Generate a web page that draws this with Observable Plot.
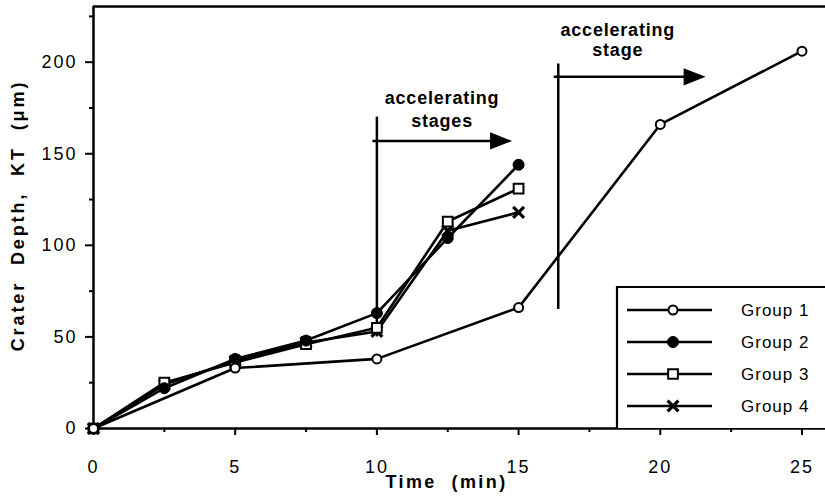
<!DOCTYPE html>
<html>
<head>
<meta charset="utf-8">
<script src="https://cdn.jsdelivr.net/npm/d3@7"></script>
<script src="https://cdn.jsdelivr.net/npm/@observablehq/plot@0.6"></script>
<style>
  body { margin: 0; background: #fff; }
  #chart { position: relative; width: 825px; height: 499px; font-family: "Liberation Sans", Arial, sans-serif; }
  #chart svg { display: block; }
  #chart text { white-space: pre; }
  #legend { position: absolute; left: 0; top: 0; }
  #legend text { letter-spacing: 1px; }
</style>
</head>
<body>
<div id="chart"></div>
<script>
// Sampling times (min) for groups 2–4, and the longer run of group 1
const times = [0, 2.5, 5, 7.5, 10, 12.5, 15];
const group1Times = [0, 5, 10, 15, 20, 25];

// Crater depth KT (µm)
const group1Depth = [0, 33, 38, 66, 166, 206];
const group2Depth = [0, 22, 38, 48, 63, 104, 144];
const group3Depth = [0, 25, 36, 46, 55, 113, 131];
const group4Depth = [0, 24, 37, 47, 53, 108, 118];

const groupNames = ["Group 1", "Group 2", "Group 3", "Group 4"];

// Axis ticks
const xTicks = [0, 5, 10, 15, 20, 25];
const xMinorTicks = [2.5, 7.5, 12.5, 17.5, 22.5];
const yTicks = [0, 50, 100, 150, 200];
const yMinorTicks = [25, 75, 125, 175, 225];
const xMax = 25.83;
const yMax = 230.4;

// Axis titles
const xTitle = "Time  (min)";
const yTitle = "Crater  Depth,  KT  (μm)";

// Accelerating-stage markers: start time, vertical extent, arrow height and tip
const stageStart = [10, 16.4];
const stageBottom = [50, 65];
const stageTop = [170, 199];
const arrowY = [157, 192];
const arrowTip = [14.77, 21.6];

// Stage label lines
const stageLabelText = ["accelerating", "stages", "accelerating", "stage"];
const stageLabelX = [12.3, 12.3, 18.5, 18.5];
const stageLabelY = [180.5, 167.5, 217.5, 206.6];

const series = [
  {name: groupNames[0], t: group1Times, d: group1Depth},
  {name: groupNames[1], t: times, d: group2Depth},
  {name: groupNames[2], t: times, d: group3Depth},
  {name: groupNames[3], t: times, d: group4Depth}
];
const rows = series.flatMap(s => s.d.map((depth, i) => ({group: s.name, time: s.t[i], depth})));
const of = name => rows.filter(r => r.group === name);

const stages = stageStart.map((start, i) => ({
  start, bottom: stageBottom[i], top: stageTop[i], y: arrowY[i], tip: arrowTip[i]
}));
const stageLabels = stageLabelText.map((text, i) => ({text, x: stageLabelX[i], y: stageLabelY[i]}));

// Filled arrowhead pointing right, centred on its own origin
const arrowHead = {
  draw(ctx, size) {
    const r = Math.sqrt(size / Math.PI);
    ctx.moveTo(r, 0);
    ctx.lineTo(-r, -0.78 * r);
    ctx.lineTo(-r, 0.78 * r);
    ctx.closePath();
  }
};

// Marker styles per group (shared by plot and legend)
const markerStyles = [
  {symbol: "circle", r: 4.5, fill: "white", stroke: "black", strokeWidth: 2},
  {symbol: "circle", r: 5.5, fill: "black", stroke: "black", strokeWidth: 1},
  {symbol: "square", r: 5.5, fill: "white", stroke: "black", strokeWidth: 2},
  {symbol: "times", r: 5, fill: "none", stroke: "black", strokeWidth: 3.2}
];

const chart = Plot.plot({
  width: 825,
  height: 499,
  marginTop: 6,
  marginRight: 0,
  marginBottom: 71,
  marginLeft: 93,
  style: {fontFamily: "Liberation Sans, Arial, sans-serif", color: "black", background: "white", overflow: "visible"},
  x: {domain: [0, xMax], label: null},
  y: {domain: [0, yMax], label: null},
  marks: [
    // axes
    Plot.axisX(xTicks, {tickSize: 7, tickPadding: 25, fontSize: 18, strokeWidth: 2}),
    Plot.axisX(xMinorTicks, {tickSize: 4, strokeWidth: 2, tickFormat: () => ""}),
    Plot.axisY(yTicks, {tickSize: 8, tickPadding: 8, fontSize: 18, strokeWidth: 2}),
    Plot.axisY(yMinorTicks, {tickSize: 4, strokeWidth: 2, tickFormat: () => ""}),
    Plot.ruleY([0], {strokeWidth: 2.5}),
    Plot.ruleY([yMax], {strokeWidth: 2.5}),
    Plot.ruleX([0], {strokeWidth: 2.5}),
    Plot.text([xTitle], {text: d => d, frameAnchor: "bottom", lineAnchor: "middle", textAnchor: "middle", dy: 54, dx: -13, fontSize: 18, fontWeight: "bold"}),
    Plot.text([yTitle], {text: d => d, frameAnchor: "left", textAnchor: "middle", lineAnchor: "middle", rotate: -90, dx: -75, dy: -2, fontSize: 18, fontWeight: "bold"}),

    // accelerating-stage annotations
    Plot.ruleX(stages, {x: "start", y1: "bottom", y2: "top", strokeWidth: 2.5}),
    Plot.ruleY(stages, {y: "y", x1: "start", x2: "tip", strokeWidth: 2.5, dx: -4}),
    Plot.dot(stages, {x: "tip", y: "y", symbol: arrowHead, r: 11, fill: "black", stroke: "none", dx: -11}),
    Plot.text(stageLabels, {x: "x", y: "y", text: "text", fontSize: 18, fontWeight: "bold"}),

    // series
    Plot.line(rows, {x: "time", y: "depth", z: "group", stroke: "black", strokeWidth: 2.6}),
    ...[3, 2, 1, 0].map(i => Plot.dot(of(groupNames[i]), {x: "time", y: "depth", ...markerStyles[i]}))
  ]
});

// Wider tracking on the axis and annotation text
const svg = d3.select(chart);
svg.selectAll('g[aria-label$="tick label"] text').style("letter-spacing", "2px");
svg.selectAll("text").filter(function() { return this.textContent === xTitle; }).style("letter-spacing", "2.4px");
svg.selectAll("text").filter(function() { return this.textContent === yTitle; }).style("letter-spacing", "2.9px");
svg.selectAll("text").filter(function() { return stageLabelText.includes(this.textContent); }).style("letter-spacing", "0.8px");

const root = document.getElementById("chart");
root.appendChild(chart);

// Legend box in the lower-right corner of the plot area
const legend = d3.select(root).append("svg")
  .attr("id", "legend")
  .attr("width", 825)
  .attr("height", 499);

const box = {left: 617, top: 287, bottom: 428, right: 827};
legend.append("rect")
  .attr("x", box.left).attr("y", box.top)
  .attr("width", box.right - box.left).attr("height", box.bottom - box.top)
  .attr("fill", "white");
legend.append("path")
  .attr("d", `M${box.left},${box.bottom}V${box.top}H${box.right}`)
  .attr("fill", "none")
  .attr("stroke", "black")
  .attr("stroke-width", 2.2);

const d3Symbols = {circle: d3.symbolCircle, square: d3.symbolSquare, times: d3.symbolTimes};
const rowY = [310, 342, 374, 406];
groupNames.forEach((name, i) => {
  const g = legend.append("g").attr("transform", `translate(0,${rowY[i]})`);
  g.append("line").attr("x1", 627).attr("x2", 712).attr("stroke", "black").attr("stroke-width", 2.5);
  const s = markerStyles[i];
  g.append("path")
    .attr("transform", "translate(673,0)")
    .attr("d", d3.symbol(d3Symbols[s.symbol], Math.PI * s.r * s.r)())
    .attr("fill", s.fill).attr("stroke", s.stroke).attr("stroke-width", s.strokeWidth);
  g.append("text")
    .attr("x", 741).attr("dy", "0.35em")
    .attr("font-size", 17)
    .attr("font-family", "Liberation Sans, Arial, sans-serif")
    .text(name);
});
</script>
</body>
</html>
